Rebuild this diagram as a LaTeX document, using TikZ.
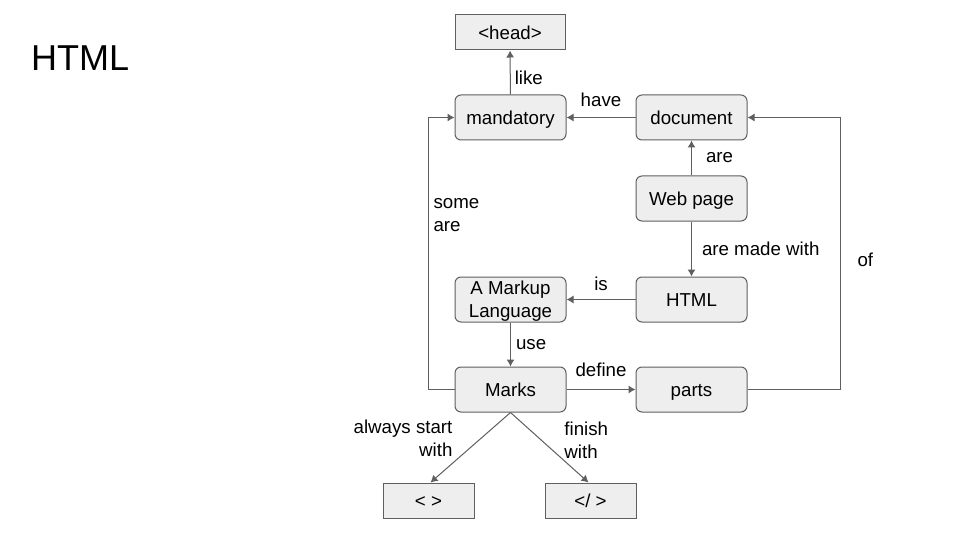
\documentclass[tikz,border=0pt]{standalone}
\usepackage{fontspec}
\setmainfont{Liberation Sans}
\usetikzlibrary{arrows.meta}
\usetikzlibrary{positioning}

\definecolor{linegray}{RGB}{95,95,95}
\definecolor{boxgray}{RGB}{238,238,238}

\begin{document}
\begin{tikzpicture}[x=1pt,y=-1pt,
  concept/.style={draw=linegray, fill=boxgray, rounded corners=6pt, line width=1pt,
    minimum width=111pt, minimum height=45pt, inner sep=0pt, align=center,
    text height=15pt, text depth=1.6pt, font=\fontsize{18.7}{23}\selectfont},
  twoline/.style={text height=, text depth=0pt},
  tagbox/.style={draw=linegray, fill=boxgray, line width=1pt,
    minimum height=35pt, inner sep=0pt, text height=15pt, text depth=1.6pt,
    font=\fontsize{18.7}{23}\selectfont},
  link/.style={draw=linegray, line width=1pt, -{Latex[length=7pt,width=8pt]}},
  word/.style={inner sep=2pt, font=\fontsize{18.7}{23}\selectfont}]
  \useasboundingbox[fill=white] (0,0) rectangle (960,540);

  \node[anchor=west, inner sep=0pt, font=\fontsize{36}{40}\selectfont] (title) at (31,58) {HTML};

  % concepts
  \node[tagbox, minimum width=110pt] (head) at (510,32.5) {<head>};
  \node[concept] (mand) at (510.5,117.5) {mandatory};
  \node[concept] (doc) at (691.5,117.5) {document};
  \node[concept] (web) at (691.5,198.5) {Web page};
  \node[concept] (html) at (691.5,299.5) {HTML};
  \node[concept, twoline] (markup) at (510.5,299.5) {A Markup\\Language};
  \node[concept] (marks) at (510.5,389.5) {Marks};
  \node[concept] (parts) at (691.5,389.5) {parts};
  \node[tagbox, minimum width=91pt] (open) at (428.5,500.5) {< >};
  \node[tagbox, minimum width=91pt] (close) at (590.5,500.5) {</ >};

  \coordinate (leftturn) at (428,389.5);
  \coordinate (rightturn) at (840,389.5);

  % links
  \draw[link] (mand) -- node[word, pos=0.38, right=2pt] {like} (head);
  \draw[link] (doc) -- node[word, above=8pt] {have} (mand);
  \draw[link] (web) -- node[word, right=12pt] {are} (doc);
  \draw[link] (web) -- node[word, right=8pt] {are made with} (html);
  \draw[link] (html) -- node[word, above=6pt] {is} (markup);
  \draw[link] (markup) -- node[word, right=3pt] {use} (marks);
  \draw[link] (marks) -- node[word, above=10pt] {define} (parts);
  \draw[link] (parts.east) -- (rightturn) |- node[word, pos=0.238, right=15pt] {of} (doc.east);
  \draw[link] (marks.west) -- (leftturn) |- node[word, pos=0.32, right=3pt, align=left] {some\\are} (mand.west);
  \draw[link] (marks.south) -- node[word, pos=0.37, left=26pt, align=right] {always start\\with} ([xshift=2pt]open.north);
  \draw[link] (marks.south) -- node[word, pos=0.39, right=21pt, align=left] {finish\\with} ([xshift=-2pt]close.north);
\end{tikzpicture}
\end{document}
